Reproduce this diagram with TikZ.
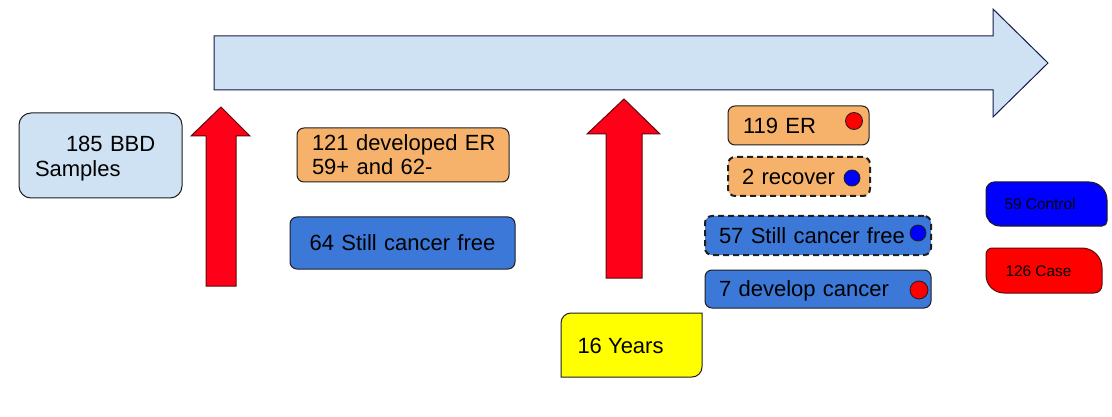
\documentclass[tikz,border=0pt]{standalone}
\usepackage{fontspec}
\setmainfont{Liberation Sans}
\usetikzlibrary{calc}
\definecolor{bleuclair}{HTML}{CFE2F3}
\definecolor{orangeclair}{HTML}{F6B26B}
\definecolor{bleumoyen}{HTML}{3C78D8}
\definecolor{rougevif}{HTML}{FF0019}
\definecolor{rougepur}{HTML}{FF0000}
\definecolor{bleupur}{HTML}{0000FF}
\definecolor{jaunepur}{HTML}{FFFF00}
\definecolor{contour}{HTML}{1F1F1F}
\definecolor{contourrouge}{HTML}{5E0A0A}

\begin{document}
\begin{tikzpicture}[x=1pt, y=-1pt, line width=1pt,
  font=\fontsize{22}{24}\selectfont,
  boite/.style={draw=contour, rounded corners=7pt, anchor=north west,
    outer sep=0pt, inner ysep=0pt, align=left, text height=15.7pt, text depth=0pt},
  pointille/.style={dash pattern=on 6pt off 4pt, line width=2pt},
  pastille/.style={circle, draw=contour, line width=0.8pt, minimum size=16pt, inner sep=0pt},
  fleche/.style={fill=rougevif, draw=contourrouge, line width=1pt},
  petit/.style={font=\fontsize{15.4}{18}\selectfont, anchor=west, inner sep=0pt}]
  % Fond
  \useasboundingbox (0,0) rectangle (1112,417);
  \fill[white] (0,0) rectangle (1112,417);
  % Grande flèche du temps
  \draw[fill=bleuclair, draw=contour!80!blue] (214,36) -- (993,36) -- (993,9) -- (1048,63)
    -- (993,117) -- (993,90) -- (214,90) -- cycle;
  % Flèches rouges
  \draw[fleche] (206,286) -- (206,136) -- (191,136) -- (221,107) -- (250,136)
    -- (236,136) -- (236,286) -- cycle;
  \draw[fleche] (606,278) -- (606,134) -- (587,134) -- (624,99) -- (660,134)
    -- (642,134) -- (642,278) -- cycle;
  % Échantillons de départ
  \node[boite, fill=bleuclair, rounded corners=12pt, minimum height=85pt, text width=131pt,
    inner xsep=16pt, font=\fontsize{22}{25}\selectfont, text height=16pt, text depth=23pt]
    (bbd) at (19,113) {\hspace*{31pt}185 BBD\\Samples};
  % Premier bilan
  \node[boite, fill=orangeclair, minimum height=54pt, text width=182pt, inner xsep=15pt,
    text height=16pt, text depth=24pt] (er121) at (297,128)
    {\mbox{121 developed ER}\\59+ and 62-};
  \node[boite, fill=bleumoyen, minimum height=52pt, text width=205pt, inner xsep=10pt,
    align=center] (libre64) at (290,217) {64 Still cancer free};
  % Second bilan
  \node[boite, fill=orangeclair, minimum height=39pt, text width=111pt, inner xsep=15pt]
    (er119) at (728,106) {119 ER};
  \node[boite, pointille, fill=orangeclair, minimum height=39pt, text width=114pt, inner xsep=14pt]
    (guerison) at (728,157) {2 recover};
  \node[boite, pointille, fill=bleumoyen, minimum height=39pt, text width=198pt, inner xsep=14pt]
    (libre57) at (705,216) {57 Still cancer free};
  \node[boite, fill=bleumoyen, minimum height=38pt, text width=198pt, inner xsep=14pt]
    (cancer7) at (705,270) {7 develop cancer};
  % Pastilles
  \node[pastille, fill=rougepur, minimum height=17pt] (p119) at (854,121) {};
  \node[pastille, fill=bleupur] (p2) at (852,178) {};
  \node[pastille, fill=bleupur] (p57) at (918,233) {};
  \node[pastille, fill=rougepur, minimum height=18pt] (p7) at (919,290) {};
  % Durée
  \draw[draw=contour, fill=jaunepur] (561,377) -- (561,323)
    .. controls (561,317.5) and (565.5,313) .. (571,313) -- (702,313) -- (702,367)
    .. controls (702,372.5) and (697.5,377) .. (692,377) -- cycle;
  \node[anchor=west, inner sep=0pt] (annees) at (577,346) {16 Years};
  % Témoins et cas
  \draw[draw=contour, fill=bleupur] (994,182) -- (1089,182)
    .. controls (1099,182) and (1107,190) .. (1107,200) -- (1107,221)
    .. controls (1107,224) and (1105,226) .. (1102,226) -- (1000,226)
    .. controls (992,226) and (986,220) .. (986,212) -- (986,190)
    .. controls (986,186) and (990,182) .. cycle;
  \node[petit] (temoins) at (1004,204) {59 Control};
  \draw[draw=contourrouge, fill=rougepur] (992,248) -- (1082,248)
    .. controls (1093,248) and (1102,257) .. (1102,268) -- (1102,285)
    .. controls (1102,289.5) and (1098.5,293) .. (1094,293) -- (1004,293)
    .. controls (994,293) and (986,285) .. (986,275) -- (986,254)
    .. controls (986,251) and (989,248) .. cycle;
  \node[petit] (cas) at (1005,271) {126 Case};
\end{tikzpicture}
\end{document}
